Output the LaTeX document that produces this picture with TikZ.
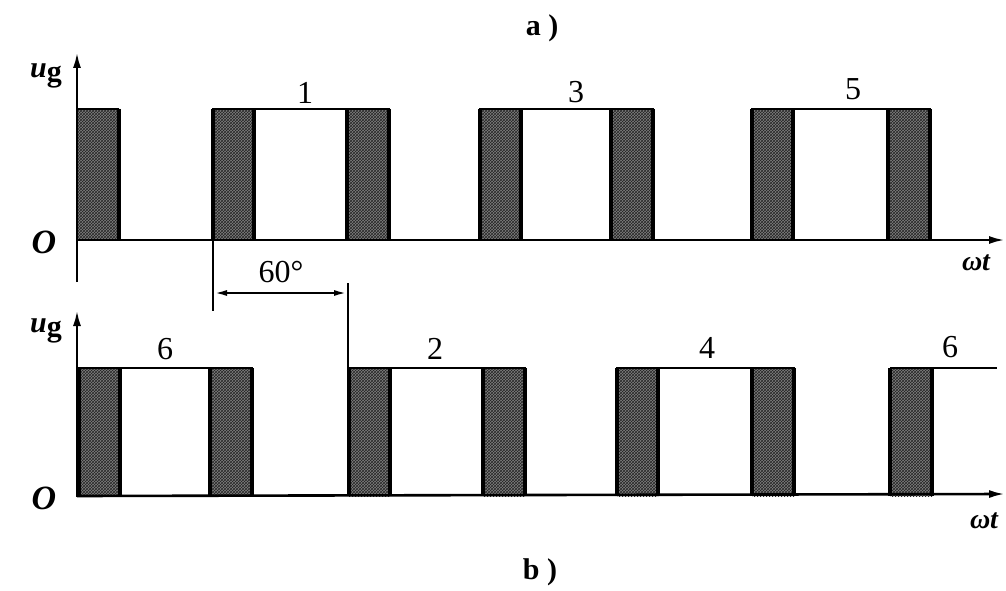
\documentclass[tikz,border=0pt]{standalone}
\usepackage{fontspec}
\setmainfont{Liberation Serif}
\usetikzlibrary{patterns,arrows.meta}
\begin{document}
\begin{tikzpicture}[x=1pt,y=-1pt,
  axis/.style={line width=2.6pt,-{Latex[length=16pt,width=8pt]}},
  wave/.style={line width=2.6pt},
  shadeblk/.style={fill=black!50,postaction={pattern=crosshatch,pattern color=black!85}},
  edge/.style={line width=4.5pt},
  lbl/.style={font=\fontsize{30}{32}\selectfont\bfseries,inner sep=0pt},
  num/.style={font=\fontsize{32}{34}\selectfont,inner sep=0pt}]
\useasboundingbox (0,0) rectangle (1006,591);
% ---------- panel a ----------
\def\pulseA#1#2{% left start, right end
  \fill[shadeblk] (#1,240) rectangle (#1+41,109);
  \fill[shadeblk] (#2-42,240) rectangle (#2,109);
  \draw[wave] (#1,240) -- (#1,109) -- (#2,109) -- (#2,240);
  \draw[edge] (#1,240) -- (#1,109) (#1+41,109) -- (#1+41,240);
  \draw[edge] (#2-42,240) -- (#2-42,109) (#2,109) -- (#2,240);}
\fill[shadeblk] (77,240) rectangle (119,109);
\draw[wave] (78,109) -- (119,109);
\draw[edge] (119,109) -- (119,240);
\pulseA{213}{389}
\pulseA{480}{653}
\pulseA{752}{930}
\draw[axis] (77,282) -- (77,52);
\draw[axis] (77,240) -- (1005,240);
\node[lbl] (ua) at (46,76) {\textit{u}\raisebox{-4pt}{g}};
\node[lbl,font=\fontsize{34}{36}\selectfont\bfseries\itshape] (oa) at (44,242) {O};
\node[lbl,font=\fontsize{28}{30}\selectfont\bfseries\itshape] (wta) at (976,263) {ωt};
\node[num] (n1) at (305,93) {1};
\node[num] (n3) at (576,92) {3};
\node[num] (n5) at (853,89) {5};
\node[lbl] (ta) at (542,28) {a )};
% ---------- 60 deg ----------
\coordinate (d1) at (213,240);
\coordinate (d1b) at (213,311);
\coordinate (d2) at (348,283);
\coordinate (d2b) at (348,368);
\draw[line width=2.4pt] (d1) -- (d1b);
\draw[line width=2.4pt] (d2) -- (d2b);
\draw[line width=2.2pt,{Latex[length=13pt,width=6pt]}-{Latex[length=13pt,width=6pt]}] (214,293) -- (347,293);
\node[num] (sixty) at (281,272) {60°};
% ---------- panel b ----------
\def\pulseB#1#2{%
  \fill[shadeblk] (#1,496) rectangle (#1+41,368);
  \fill[shadeblk] (#2-42,496) rectangle (#2,368);
  \draw[wave] (#1,496) -- (#1,368) -- (#2,368) -- (#2,496);
  \draw[edge] (#1,496) -- (#1,368) (#1+41,368) -- (#1+41,496);
  \draw[edge] (#2-42,496) -- (#2-42,368) (#2,368) -- (#2,496);}
\pulseB{79}{252}
\pulseB{349}{525}
\pulseB{617}{794}
\fill[shadeblk] (890,496) rectangle (932,368);
\draw[edge] (890,496) -- (890,368) (932,368) -- (932,496);
\draw[wave] (890,368) -- (997,368);
\draw[axis] (77,497) -- (77,310);
\draw[axis] (77,496) -- (1005,494);
\node[lbl] (ub) at (46,331) {\textit{u}\raisebox{-4pt}{g}};
\node[lbl,font=\fontsize{34}{36}\selectfont\bfseries\itshape] (ob) at (44,498) {O};
\node[lbl,font=\fontsize{28}{30}\selectfont\bfseries\itshape] (wtb) at (984,521) {ωt};
\node[num] (m6a) at (165,349) {6};
\node[num] (m2) at (435,349) {2};
\node[num] (m4) at (707,348) {4};
\node[num] (m6b) at (950,347) {6};
\node[lbl] (tb) at (540,572) {b )};
\end{tikzpicture}
\end{document}
